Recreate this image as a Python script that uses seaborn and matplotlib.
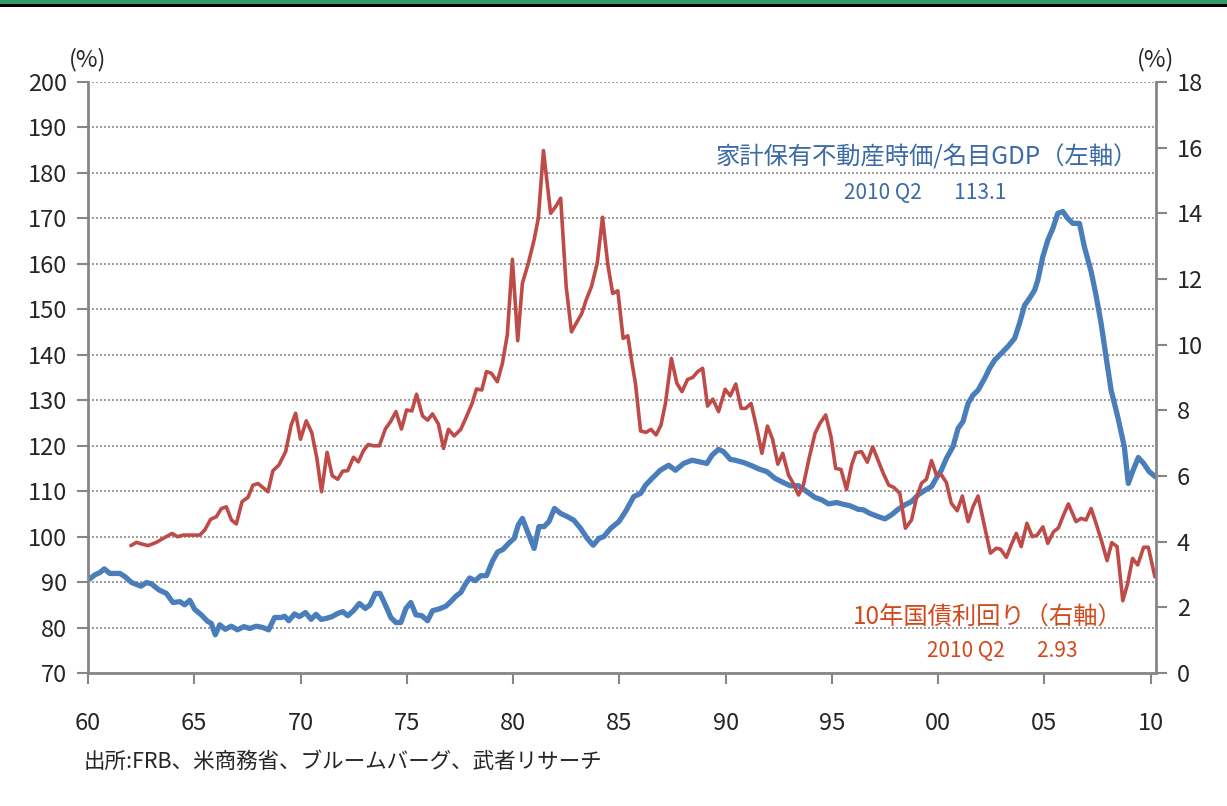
import numpy as np
import pandas as pd
import matplotlib.pyplot as plt
import seaborn as sns
from matplotlib.patches import Rectangle

sns.set_style('ticks')
plt.rcParams['font.family'] = ['Noto Sans CJK JP', 'DejaVu Sans']

# household real estate value / nominal GDP (left axis, %)
house_year = [1960.02, 1960.33, 1960.56, 1960.77, 1961.03, 1961.5, 1961.74, 1962.05, 1962.49, 1962.75,
              1962.99, 1963.33, 1963.69, 1964.0, 1964.32, 1964.55, 1964.79, 1965.02, 1965.33, 1965.62,
              1965.8, 1965.99, 1966.2, 1966.46, 1966.74, 1967.03, 1967.34, 1967.61, 1967.92, 1968.23,
              1968.5, 1968.78, 1969.09, 1969.25, 1969.45, 1969.72, 1969.95, 1970.23, 1970.5, 1970.73,
              1970.97, 1971.2, 1971.48, 1971.75, 1971.99, 1972.22, 1972.49, 1972.77, 1973.05, 1973.27,
              1973.52, 1973.74, 1973.99, 1974.25, 1974.49, 1974.72, 1974.96, 1975.19, 1975.43, 1975.71,
              1975.98, 1976.21, 1976.53, 1976.84, 1977.07, 1977.31, 1977.54, 1977.78, 1977.96, 1978.22,
              1978.48, 1978.75, 1979.03, 1979.27, 1979.53, 1979.81, 1980.05, 1980.25, 1980.44, 1980.99,
              1981.22, 1981.46, 1981.69, 1981.95, 1982.24, 1982.55, 1982.86, 1983.18, 1983.49, 1983.77,
              1984.04, 1984.27, 1984.59, 1984.98, 1985.29, 1985.68, 1986.0, 1986.23, 1986.54, 1986.93,
              1987.32, 1987.64, 1988.03, 1988.42, 1988.73, 1989.12, 1989.36, 1989.67, 1989.9, 1990.22,
              1990.45, 1990.85, 1991.23, 1991.55, 1991.94, 1992.33, 1992.72, 1993.04, 1993.43, 1993.82,
              1994.21, 1994.52, 1994.84, 1995.23, 1995.54, 1995.85, 1996.24, 1996.48, 1996.79, 1997.18,
              1997.5, 1997.81, 1998.12, 1998.44, 1998.75, 1999.06, 1999.45, 1999.69, 1999.92, 2000.15,
              2000.39, 2000.7, 2000.94, 2001.17, 2001.41, 2001.64, 2001.88, 2002.19, 2002.42, 2002.66,
              2002.97, 2003.28, 2003.6, 2003.83, 2004.07, 2004.3, 2004.54, 2004.69, 2004.93, 2005.16,
              2005.4, 2005.63, 2005.87, 2006.1, 2006.34, 2006.65, 2006.88, 2007.2, 2007.43, 2007.67,
              2007.9, 2008.14, 2008.45, 2008.76, 2008.95, 2009.15, 2009.42, 2009.67, 2009.93, 2010.24]
house_ratio = [90.5, 91.6, 92.1, 92.9, 91.9, 91.9, 91.2, 89.9, 89.1, 89.9,
               89.6, 88.3, 87.5, 85.5, 85.7, 85.0, 86.0, 84.0, 82.8, 81.4,
               80.9, 78.4, 80.6, 79.6, 80.3, 79.5, 80.2, 79.8, 80.3, 80.0,
               79.5, 82.2, 82.2, 82.5, 81.5, 83.0, 82.4, 83.3, 81.8, 82.9,
               81.8, 82.0, 82.4, 83.1, 83.5, 82.6, 83.7, 85.3, 84.2, 85.0,
               87.5, 87.5, 85.0, 82.2, 81.1, 81.1, 84.2, 85.5, 82.8, 82.6,
               81.5, 83.7, 84.1, 84.7, 85.7, 86.9, 87.7, 89.7, 90.9, 90.3,
               91.4, 91.4, 94.6, 96.6, 97.2, 98.6, 99.6, 102.6, 104.0, 97.4,
               102.2, 102.2, 103.3, 106.2, 105.1, 104.4, 103.6, 101.8, 99.6, 98.1,
               99.6, 100.0, 101.8, 103.3, 105.5, 108.8, 109.5, 111.3, 112.8, 114.6,
               115.7, 114.6, 116.1, 116.8, 116.5, 116.1, 117.9, 119.2, 118.7, 117.0,
               116.8, 116.3, 115.6, 114.9, 114.3, 112.8, 111.9, 111.2, 111.2, 109.9,
               108.6, 108.1, 107.2, 107.5, 107.1, 106.8, 106.0, 105.9, 105.1, 104.4,
               103.9, 104.8, 106.0, 107.0, 107.7, 109.2, 110.4, 111.0, 112.9, 114.6,
               117.2, 119.8, 123.8, 125.3, 129.3, 131.1, 132.2, 134.8, 137.0, 138.8,
               140.3, 141.8, 143.6, 146.9, 150.9, 152.4, 154.2, 156.4, 161.6, 165.2,
               167.8, 171.1, 171.5, 170.0, 168.9, 168.9, 163.8, 158.3, 153.1, 146.9,
               139.6, 132.2, 126.4, 119.8, 111.7, 114.3, 117.4, 116.1, 114.3, 113.1]

# 10-year Treasury yield (right axis, %)
yield_year = [1962.02, 1962.28, 1962.52, 1962.83, 1963.22, 1963.62, 1963.96, 1964.21, 1964.47, 1965.26,
              1965.49, 1965.77, 1966.04, 1966.28, 1966.51, 1966.75, 1966.98, 1967.25, 1967.53, 1967.76,
              1968.0, 1968.47, 1968.7, 1968.98, 1969.3, 1969.56, 1969.77, 1970.0, 1970.27, 1970.53,
              1970.77, 1970.99, 1971.25, 1971.49, 1971.75, 1971.99, 1972.22, 1972.49, 1972.72, 1972.96,
              1973.19, 1973.44, 1973.71, 1973.99, 1974.25, 1974.49, 1974.75, 1974.99, 1975.24, 1975.46,
              1975.74, 1975.98, 1976.21, 1976.49, 1976.73, 1976.96, 1977.23, 1977.54, 1977.81, 1978.06,
              1978.28, 1978.53, 1978.75, 1978.98, 1979.26, 1979.5, 1979.73, 1979.97, 1980.22, 1980.44,
              1980.72, 1980.99, 1981.19, 1981.43, 1981.77, 1982.0, 1982.24, 1982.5, 1982.75, 1982.97,
              1983.22, 1983.44, 1983.69, 1983.96, 1984.21, 1984.46, 1984.69, 1984.93, 1985.18, 1985.4,
              1985.6, 1985.76, 1986.0, 1986.26, 1986.49, 1986.73, 1986.96, 1987.17, 1987.45, 1987.71,
              1987.95, 1988.21, 1988.45, 1988.69, 1988.92, 1989.15, 1989.4, 1989.67, 1989.98, 1990.22,
              1990.48, 1990.73, 1990.95, 1991.2, 1991.47, 1991.71, 1991.97, 1992.21, 1992.46, 1992.69,
              1992.96, 1993.19, 1993.43, 1993.66, 1993.93, 1994.21, 1994.44, 1994.71, 1994.96, 1995.18,
              1995.43, 1995.69, 1995.93, 1996.13, 1996.4, 1996.67, 1996.92, 1997.18, 1997.42, 1997.68,
              1997.92, 1998.2, 1998.46, 1998.75, 1998.98, 1999.22, 1999.45, 1999.69, 1999.92, 2000.15,
              2000.39, 2000.62, 2000.9, 2001.14, 2001.41, 2001.64, 2001.88, 2002.16, 2002.46, 2002.74,
              2002.94, 2003.21, 2003.44, 2003.68, 2003.91, 2004.18, 2004.43, 2004.66, 2004.93, 2005.16,
              2005.43, 2005.66, 2005.9, 2006.13, 2006.49, 2006.73, 2006.96, 2007.2, 2007.43, 2007.7,
              2007.95, 2008.17, 2008.42, 2008.69, 2008.92, 2009.15, 2009.39, 2009.67, 2009.89, 2010.2]
yield_pct = [3.88, 3.98, 3.93, 3.88, 3.98, 4.13, 4.25, 4.15, 4.2, 4.2,
             4.35, 4.68, 4.76, 5.01, 5.06, 4.66, 4.54, 5.22, 5.35, 5.72,
             5.77, 5.52, 6.16, 6.33, 6.74, 7.55, 7.91, 7.12, 7.68, 7.32,
             6.54, 5.52, 6.72, 6.01, 5.9, 6.15, 6.16, 6.57, 6.43, 6.77,
             6.96, 6.92, 6.92, 7.43, 7.67, 7.96, 7.43, 8.01, 7.98, 8.49,
             7.83, 7.7, 7.89, 7.58, 6.84, 7.42, 7.22, 7.42, 7.81, 8.19,
             8.65, 8.62, 9.18, 9.13, 8.87, 9.43, 10.3, 12.6, 10.12, 11.87,
             12.48, 13.19, 13.85, 15.91, 14.0, 14.2, 14.46, 11.77, 10.39, 10.65,
             10.93, 11.36, 11.77, 12.48, 13.88, 12.43, 11.56, 11.64, 10.19, 10.27,
             9.43, 8.82, 7.37, 7.33, 7.42, 7.25, 7.55, 8.21, 9.58, 8.82,
             8.57, 8.94, 9.0, 9.18, 9.28, 8.13, 8.34, 7.96, 8.64, 8.44,
             8.8, 8.06, 8.06, 8.21, 7.45, 6.69, 7.52, 7.12, 6.36, 6.69,
             6.03, 5.77, 5.42, 5.72, 6.54, 7.3, 7.6, 7.86, 7.2, 6.23,
             6.2, 5.59, 6.33, 6.71, 6.74, 6.42, 6.89, 6.47, 6.08, 5.72,
             5.65, 5.47, 4.41, 4.66, 5.32, 5.78, 5.9, 6.47, 6.03, 6.04,
             5.8, 5.17, 4.94, 5.39, 4.61, 5.06, 5.39, 4.54, 3.65, 3.8,
             3.77, 3.52, 3.9, 4.25, 3.85, 4.56, 4.15, 4.2, 4.45, 3.95,
             4.3, 4.42, 4.81, 5.15, 4.61, 4.71, 4.66, 5.01, 4.56, 4.0,
             3.42, 3.97, 3.85, 2.2, 2.73, 3.49, 3.29, 3.83, 3.83, 2.93]

x_ticks = [1960, 1965, 1970, 1975, 1980, 1985, 1990, 1995, 2000, 2005, 2010]
x_labels = ['60', '65', '70', '75', '80', '85', '90', '95', '00', '05', '10']

house_label = '家計保有不動産時価/名目GDP（左軸）'
house_last = '2010 Q2       113.1'
yield_label = '10年国債利回り（右軸）'
yield_last = '2010 Q2       2.93'
source = '出所:FRB、米商務省、ブルームバーグ、武者リサーチ'

blue = '#4a7ebb'
red = '#be4b48'
axis_gray = '#868686'
tick_size = 17

fig = plt.figure(figsize=(12.27, 8.06), dpi=100)
ax = fig.add_axes([0.0717, 0.165, 0.8704, 0.7333])

sns.lineplot(x=house_year, y=house_ratio, ax=ax, color=blue, lw=3.8)
ax.set_xlim(1960, 2010.25)
ax.set_ylim(70, 200)
ax.set_yticks(range(70, 201, 10))
ax.set_xticks(x_ticks)
ax.set_xticklabels(x_labels)
ax.yaxis.grid(True, linestyle=(0, (1.2, 1.2)), color='#8c8c8c', lw=1.2)
ax.set_axisbelow(True)

ax2 = ax.twinx()
sns.lineplot(x=yield_year, y=yield_pct, ax=ax2, color=red, lw=2.6)
ax2.set_ylim(0, 18)
ax2.set_yticks(range(0, 19, 2))

for a in (ax, ax2):
    a.set_xlabel('')
    a.set_ylabel('')
    a.spines['top'].set_visible(False)
    for s in a.spines.values():
        s.set_color(axis_gray)
        s.set_linewidth(2)
ax.spines['right'].set_visible(False)
ax2.spines['left'].set_visible(False)
ax2.spines['bottom'].set_visible(False)

ax.tick_params(axis='y', direction='out', length=8, width=1.5, color=axis_gray,
               labelsize=tick_size, pad=7)
ax.tick_params(axis='x', direction='out', length=8, width=1.5, color=axis_gray,
               labelsize=tick_size, pad=20)
ax2.tick_params(axis='y', direction='out', length=8, width=1.5, color=axis_gray,
                labelsize=tick_size, pad=7)

fig.text(0.0717, 0.912, '(%)', fontsize=tick_size, ha='center', va='bottom')
fig.text(0.9421, 0.912, '(%)', fontsize=tick_size, ha='center', va='bottom')

fig.text(0.7555, 0.804, house_label, fontsize=17.5, color='#3b6aa6', ha='center', va='center')
fig.text(0.754, 0.761, house_last, fontsize=15, color='#3b6aa6', ha='center', va='center')
fig.text(0.805, 0.234, yield_label, fontsize=17.5, color='#d24a1c', ha='center', va='center')
fig.text(0.817, 0.192, yield_last, fontsize=15, color='#d24a1c', ha='center', va='center')

fig.text(0.068, 0.055, source, fontsize=15.5, ha='left', va='center')

fig.add_artist(Rectangle((0, 1 - 4 / 806), 1, 4 / 806, transform=fig.transFigure,
                         color='#339966', lw=0))
fig.add_artist(Rectangle((0, 1 - 7 / 806), 1, 3 / 806, transform=fig.transFigure,
                         color='black', lw=0))

fig.savefig('out.png', dpi=100)
